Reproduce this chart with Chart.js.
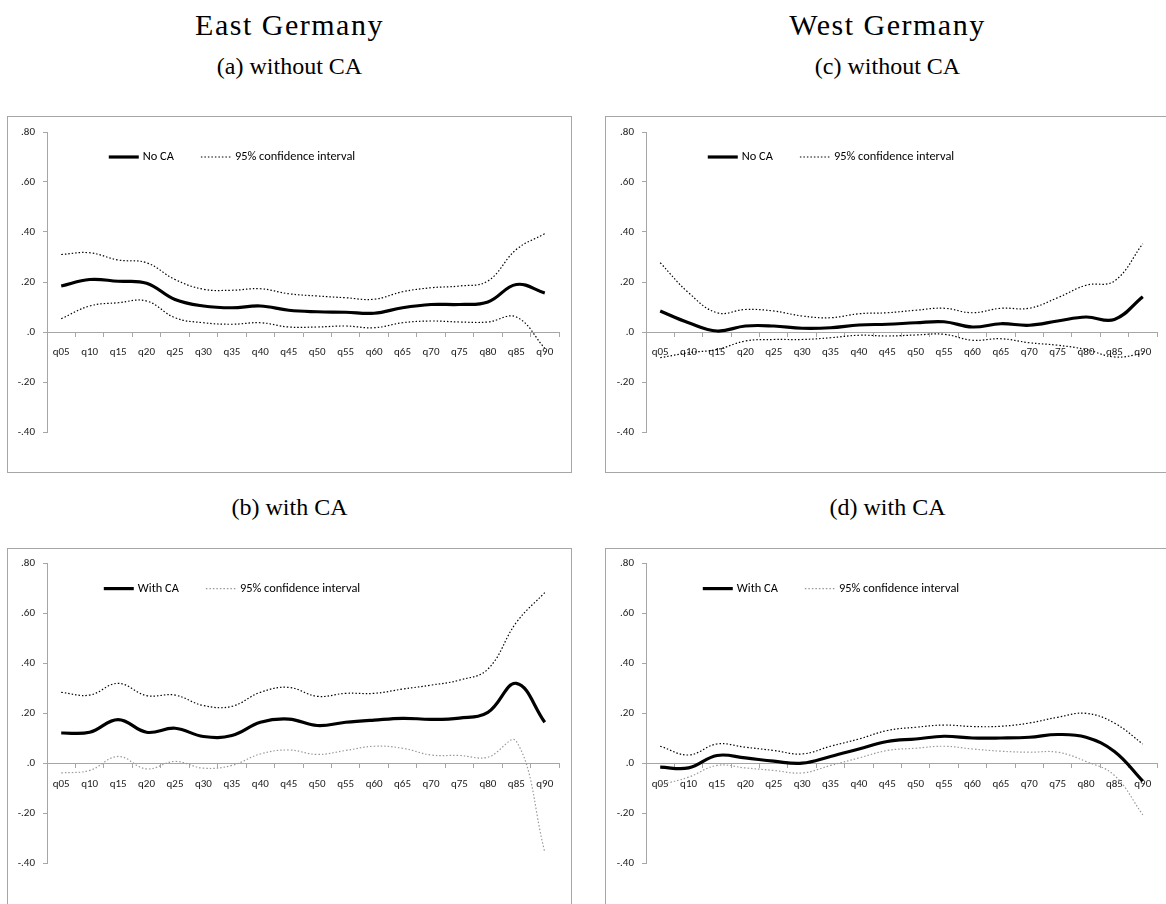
<!DOCTYPE html>
<html lang="en">
<head>
<meta charset="UTF-8">
<title>East and West Germany</title>
<script src="https://cdn.jsdelivr.net/npm/chart.js"></script>
<style>
  body { margin: 0; width: 1166px; height: 904px; overflow: hidden; background: #fff; position: relative; }
  .titulo { position: absolute; width: 565px; text-align: center; font-family: "Liberation Serif", "Times New Roman", serif; line-height: 1; color: #000; }
  .cabeca { font-size: 30px; letter-spacing: 1.5px; }
  .sub { font-size: 24px; }
  .painel { position: absolute; width: 565px; height: 357px; border: 1px solid #a6a6a6; box-sizing: border-box; }
  .painel canvas { position: absolute; left: 0; top: 0; }
</style>
</head>
<body>
  <div class="titulo cabeca" style="left:7px; top:10px;">East Germany</div>
  <div class="titulo cabeca" style="left:605px; top:10px;">West Germany</div>
  <div class="titulo sub" style="left:7px; top:54px;">(a) without CA</div>
  <div class="titulo sub" style="left:605px; top:54px;">(c) without CA</div>
  <div class="titulo sub" style="left:7px; top:495px;">(b) with CA</div>
  <div class="titulo sub" style="left:605px; top:495px;">(d) with CA</div>

  <div class="painel" style="left:7px; top:116px;"><canvas id="graficoA" width="563" height="355"></canvas></div>
  <div class="painel" style="left:605px; top:116px;"><canvas id="graficoC" width="563" height="355"></canvas></div>
  <div class="painel" style="left:7px; top:548px;"><canvas id="graficoB" width="563" height="355"></canvas></div>
  <div class="painel" style="left:605px; top:548px;"><canvas id="graficoD" width="563" height="355"></canvas></div>

<script>
  const quantis = ["q05", "q10", "q15", "q20", "q25", "q30", "q35", "q40", "q45",
                   "q50", "q55", "q60", "q65", "q70", "q75", "q80", "q85", "q90"];
  const yRotulos = ["-.40", "-.20", ".0", ".20", ".40", ".60", ".80"];

  // (a) East Germany, without CA
  const lesteSem    = [0.184, 0.21, 0.203, 0.195, 0.13, 0.104, 0.097, 0.104, 0.087, 0.081, 0.079, 0.075, 0.097, 0.11, 0.11, 0.12, 0.19, 0.156];
  const lesteSemSup = [0.31, 0.317, 0.288, 0.277, 0.21, 0.171, 0.167, 0.173, 0.153, 0.144, 0.137, 0.131, 0.161, 0.177, 0.184, 0.204, 0.33, 0.393];
  const lesteSemInf = [0.053, 0.104, 0.117, 0.124, 0.057, 0.037, 0.031, 0.037, 0.02, 0.02, 0.024, 0.017, 0.037, 0.044, 0.04, 0.04, 0.06, -0.065];

  // (c) West Germany, without CA
  const oesteSem    = [0.084, 0.037, 0.004, 0.024, 0.024, 0.015, 0.017, 0.028, 0.031, 0.037, 0.041, 0.02, 0.033, 0.027, 0.044, 0.06, 0.05, 0.141];
  const oesteSemSup = [0.277, 0.157, 0.077, 0.09, 0.084, 0.064, 0.057, 0.073, 0.077, 0.087, 0.095, 0.077, 0.095, 0.095, 0.137, 0.187, 0.204, 0.353];
  const oesteSemInf = [-0.103, -0.083, -0.07, -0.036, -0.03, -0.03, -0.023, -0.013, -0.016, -0.012, -0.009, -0.033, -0.027, -0.043, -0.053, -0.07, -0.1, -0.087];

  // (b) East Germany, with CA
  const lesteCom    = [0.121, 0.124, 0.175, 0.124, 0.14, 0.107, 0.111, 0.164, 0.177, 0.151, 0.164, 0.173, 0.18, 0.176, 0.181, 0.204, 0.32, 0.164];
  const lesteComSup = [0.284, 0.273, 0.32, 0.271, 0.273, 0.231, 0.228, 0.284, 0.304, 0.268, 0.28, 0.28, 0.297, 0.313, 0.333, 0.377, 0.564, 0.684];
  const lesteComInf = [-0.039, -0.029, 0.027, -0.023, 0.007, -0.02, -0.009, 0.037, 0.053, 0.035, 0.051, 0.068, 0.06, 0.033, 0.031, 0.024, 0.088, -0.356];

  // (d) West Germany, with CA
  const oesteCom    = [-0.016, -0.019, 0.031, 0.021, 0.008, 0.0, 0.027, 0.057, 0.087, 0.097, 0.108, 0.101, 0.101, 0.104, 0.115, 0.104, 0.047, -0.072];
  const oesteComSup = [0.068, 0.033, 0.077, 0.064, 0.051, 0.037, 0.068, 0.097, 0.131, 0.144, 0.153, 0.147, 0.148, 0.161, 0.184, 0.2, 0.161, 0.077];
  const oesteComInf = [-0.087, -0.056, -0.009, -0.019, -0.029, -0.039, -0.009, 0.021, 0.051, 0.06, 0.068, 0.057, 0.048, 0.044, 0.044, 0.007, -0.049, -0.207];

  const corEixo = "#a6a6a6";
  const fonteTicks = { family: "Carlito, Lato, sans-serif", size: 11 };

  // legend drawn inside the plot area, like the Excel original
  const legendaPlugin = {
    id: "legenda",
    afterDatasetsDraw(chart, args, opts) {
      const ctx = chart.ctx;
      const area = chart.chartArea;
      const itens = opts.items;
      const amostra = 30, gapTexto = 4, gapItem = 27;
      ctx.save();
      ctx.font = "12.4px Carlito, Lato, sans-serif";
      const larguras = itens.map(i => ctx.measureText(chart.data.datasets[i].label).width);
      let total = gapItem * (itens.length - 1);
      larguras.forEach(w => { total += amostra + gapTexto + w; });
      let x = area.left + opts.centro - total / 2;
      const y = area.top + opts.topo;
      itens.forEach((i, k) => {
        const ds = chart.data.datasets[i];
        ctx.beginPath();
        ctx.strokeStyle = ds.borderColor;
        ctx.lineWidth = ds.borderWidth;
        ctx.setLineDash(ds.borderDash || []);
        ctx.moveTo(x, y);
        ctx.lineTo(x + amostra, y);
        ctx.stroke();
        ctx.setLineDash([]);
        ctx.fillStyle = "#000";
        ctx.textBaseline = "middle";
        ctx.fillText(ds.label, x + amostra + gapTexto, y);
        x += amostra + gapTexto + larguras[k] + gapItem;
      });
      ctx.restore();
    }
  };

  function criarPainel(id, serie, sup, inf, rotulo, corInf, larguraY, padTopo) {
    const pontilhado = { borderWidth: 1.2, borderDash: [1.5, 2], tension: 0.4, pointRadius: 0, fill: false };
    new Chart(document.getElementById(id), {
      type: "line",
      data: {
        labels: quantis,
        datasets: [
          { label: rotulo, data: serie, borderColor: "#000", borderWidth: 3.2, tension: 0.4, pointRadius: 0, fill: false },
          Object.assign({ label: "95% confidence interval", data: sup, borderColor: "#000" }, pontilhado),
          Object.assign({ label: "95% confidence interval", data: inf, borderColor: corInf }, pontilhado)
        ]
      },
      options: {
        responsive: false,
        animation: false,
        layout: { padding: { top: padTopo, right: 12, bottom: 355 - padTopo - 300, left: 0 } },
        plugins: {
          legend: { display: false },
          tooltip: { enabled: false },
          legenda: { items: [0, 2], centro: 185, topo: 25 }
        },
        scales: {
          x: {
            position: { y: 0 },
            offset: true,
            grid: { offset: true, drawOnChartArea: false, tickLength: 4, color: corEixo },
            border: { color: corEixo },
            ticks: { padding: 10, color: "#1a1a1a", font: fonteTicks, maxRotation: 0, autoSkip: false }
          },
          y: {
            min: -0.4,
            max: 0.8,
            afterFit: s => { s.width = larguraY; },
            grid: { drawOnChartArea: false, tickLength: 4, color: corEixo },
            border: { color: corEixo },
            ticks: { stepSize: 0.2, padding: 8, color: "#1a1a1a", font: fonteTicks,
                     callback: (v, i) => yRotulos[i] }
          }
        }
      },
      plugins: [legendaPlugin]
    });
  }

  criarPainel("graficoA", lesteSem, lesteSemSup, lesteSemInf, "No CA", "#000", 39, 15);
  criarPainel("graficoC", oesteSem, oesteSemSup, oesteSemInf, "No CA", "#000", 40, 15);
  criarPainel("graficoB", lesteCom, lesteComSup, lesteComInf, "With CA", "#999", 39, 14);
  criarPainel("graficoD", oesteCom, oesteComSup, oesteComInf, "With CA", "#999", 40, 14);
</script>
</body>
</html>
